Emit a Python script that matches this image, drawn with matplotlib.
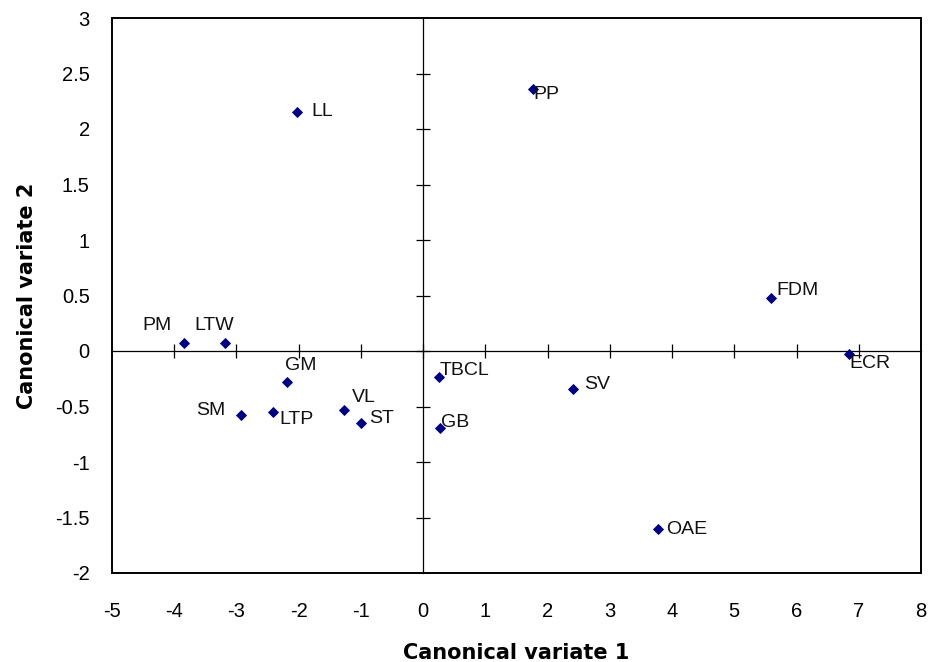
import matplotlib
matplotlib.use("Agg")
import matplotlib.pyplot as plt
from matplotlib.ticker import FormatStrFormatter

plt.rcParams['font.family'] = ['Liberation Sans', 'DejaVu Sans']
plt.rcParams['axes.unicode_minus'] = False

# Data
labels = ["PM", "LTW", "LL", "GM", "SM", "LTP", "VL", "ST",
          "TBCL", "GB", "PP", "SV", "OAE", "FDM", "ECR"]
cv1 = [-3.84, -3.18, -2.03, -2.18, -2.92, -2.42, -1.27, -1.00,
       0.25, 0.27, 1.76, 2.41, 3.78, 5.59, 6.84]
cv2 = [0.07, 0.07, 2.15, -0.28, -0.58, -0.55, -0.53, -0.65,
       -0.23, -0.69, 2.36, -0.34, -1.60, 0.475, -0.03]

x_ticks = list(range(-5, 9))
y_ticks = [-2, -1.5, -1, -0.5, 0, 0.5, 1, 1.5, 2, 2.5, 3]

# label centre offsets from the marker, in pixels (x right, y down)
label_offsets = {
    "PM": (-27, -20), "LTW": (-11, -20), "LL": (25, -3), "GM": (13, -19),
    "SM": (-31, -7), "LTP": (24, 5), "VL": (20, -15), "ST": (21, -7),
    "TBCL": (26, -9), "GB": (15, -8), "PP": (14, 3), "SV": (24, -7),
    "OAE": (28, -2), "FDM": (26, -10), "ECR": (21, 6.5),
}

fig = plt.figure(figsize=(9.3, 6.62), dpi=100)
pos = [112 / 930, 1 - 573 / 662, (921 - 112) / 930, (573 - 18) / 662]

# frame + tick labels
ax = fig.add_axes(pos)
ax.set_xlim(-5, 8)
ax.set_ylim(-2, 3)
ax.set_xticks(x_ticks)
ax.set_yticks(y_ticks)
ax.yaxis.set_major_formatter(FormatStrFormatter('%g'))
ax.tick_params(length=0, labelsize=14.5, colors='black')
ax.tick_params(axis='x', pad=21)
ax.tick_params(axis='y', pad=16)
for s in ax.spines.values():
    s.set_linewidth(1.4)
    s.set_color('black')
ax.set_xlabel("Canonical variate 1", fontsize=15, fontweight='bold',
              family='DejaVu Sans', labelpad=16)
ax.set_ylabel("Canonical variate 2", fontsize=15, fontweight='bold',
              family='DejaVu Sans', labelpad=13.5)

# axes crossing at zero with cross tick marks
ax0 = fig.add_axes(pos)
ax0.set_xlim(-5, 8)
ax0.set_ylim(-2, 3)
ax0.set_xticks(x_ticks[1:-1])
ax0.set_yticks(y_ticks[1:-1])
ax0.patch.set_visible(False)
for side in ['top', 'right']:
    ax0.spines[side].set_visible(False)
for side in ['left', 'bottom']:
    ax0.spines[side].set_position(('data', 0))
    ax0.spines[side].set_linewidth(0.9)
    ax0.spines[side].set_color('black')
ax0.tick_params(direction='inout', length=10, width=0.9,
                labelleft=False, labelbottom=False)

ax0.plot(cv1, cv2, linestyle='none', marker='D', markersize=5.4,
         color='#000080', markeredgewidth=0.6, zorder=3)

for name, x, y in zip(labels, cv1, cv2):
    dx, dy = label_offsets[name]
    ax0.annotate(name, (x, y), xytext=(dx * 0.72, -(dy + 7) * 0.72),
                 textcoords='offset points', ha='center', va='baseline',
                 fontsize=14, color='#111111')

fig.savefig("out.png", dpi=100)
